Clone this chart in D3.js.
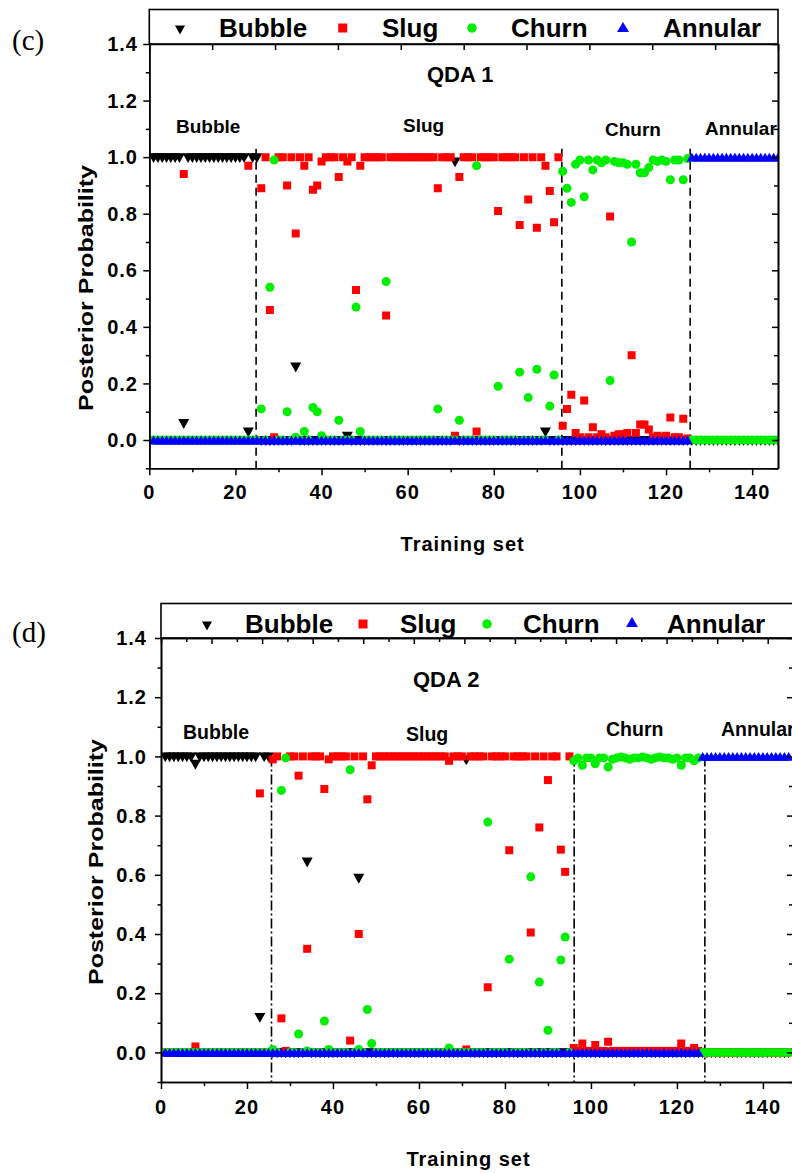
<!DOCTYPE html>
<html><head><meta charset="utf-8">
<script src="https://cdn.jsdelivr.net/npm/d3@7"></script>
<style>
body{margin:0;background:#fff;}
svg{display:block;font-family:"Liberation Sans",Arial,Helvetica,sans-serif;}
</style></head><body>
<svg id="chart" width="792" height="1173"></svg>
<script>
// ---------------- DATA ----------------
const seriesNames = ["Bubble", "Slug", "Churn", "Annular"];
const regionNames = ["Bubble", "Slug", "Churn", "Annular"];
const panelTags = ["(c)", "(d)"];
const panelTitles = ["QDA 1", "QDA 2"];
const yTickLabels = [0.0, 0.2, 0.4, 0.6, 0.8, 1.0, 1.2, 1.4];
const xTickLabels = [0, 20, 40, 60, 80, 100, 120, 140];
const xAxisTitle = "Training set";
const yAxisTitle = "Posterior Probability";
// class boundaries (training-set index)
const boundariesC = [24.8, 95.8, 125.6];
const boundariesD = [25.7, 96.1, 126.5];

// Panel (c) QDA 1 : posterior probability of each class for training samples 1..146
const bubbleC = [
 1,1,1,1,1,1,1,0.06,1,1,
 1,1,1,1,1,1,1,1,1,1,
 1,1,0.03,1,1,0,0,0,0,0,
 0,0,0,0.26,0,0,0,0,0,0,
 0,0,0,0,0,0.015,0,0,0,0,
 0,0,0,0,0,0,0,0,0,0,
 0,0,0,0,0,0,0,0,0,0,
 0.985,0,0,0,0,0,0,0,0,0,
 0,0,0,0,0,0,0,0,0,0,
 0,0.03,0,0,0,0,0,0,0,0,
 0,0,0,0,0,0,0,0,0,0,
 0,0,0,0,0,0,0,0,0,0,
 0,0,0,0,0,0,0,0,0,0,
 0,0,0,0,0,0,0,0,0,0,
 0,0,0,0,0,0];
const slugC = [
 0,0,0,0,0,0,0,0.94,0,0,
 0,0,0,0,0,0,0,0,0,0,
 0,0,0.97,0,0,0.89,1,0.46,0.01,1,
 1,0.90,1,0.73,1,0.97,1,0.885,0.90,0.985,
 1,1,1,0.93,1,0.985,1,0.53,0.97,1,
 1,1,1,1,0.44,1,1,1,1,1,
 1,1,1,1,1,1,0.89,1,1,1,
 0.015,0.93,1,1,1,0.03,1,1,1,1,
 0.81,1,1,1,1,0.76,1,0.85,1,0.75,
 1,0.97,0.88,0.77,1,0.05,0.11,0.16,0.025,0.01,
 0.14,0.01,0.045,0.01,0.02,0.01,0.79,0.015,0.02,0.02,
 0.025,0.30,0.025,0.055,0.055,0.037,0.01,0.015,0.01,0.015,
 0.08,0.01,0.01,0.075,0.005,0,0,0,0,0,
 0,0,0,0,0,0,0,0,0,0,
 0,0,0,0,0,0];
const churnC = [
 0,0,0,0,0,0,0,0,0,0,
 0,0,0,0,0,0,0,0,0,0,
 0,0,0,0,0,0.11,0,0.54,0.99,0,
 0,0.10,0,0.01,0,0.03,0,0.115,0.10,0.015,
 0,0,0,0.07,0,0,0,0.47,0.03,0,
 0,0,0,0,0.56,0,0,0,0,0,
 0,0,0,0,0,0,0.11,0,0,0,
 0,0.07,0,0,0,0.97,0,0,0,0,
 0.19,0,0,0,0,0.24,0,0.15,0,0.25,
 0,0,0.12,0.23,0,0.95,0.89,0.84,0.975,0.99,
 0.86,0.99,0.955,0.99,0.98,0.99,0.21,0.985,0.98,0.98,
 0.975,0.70,0.975,0.945,0.945,0.963,0.99,0.985,0.99,0.985,
 0.92,0.99,0.99,0.92,0.995,0,0,0,0,0,
 0,0,0,0,0,0,0,0,0,0,
 0,0,0,0,0,0];
const annularC = [
 0,0,0,0,0,0,0,0,0,0,
 0,0,0,0,0,0,0,0,0,0,
 0,0,0,0,0,0,0,0,0,0,
 0,0,0,0,0,0,0,0,0,0,
 0,0,0,0,0,0,0,0,0,0,
 0,0,0,0,0,0,0,0,0,0,
 0,0,0,0,0,0,0,0,0,0,
 0,0,0,0,0,0,0,0,0,0,
 0,0,0,0,0,0,0,0,0,0,
 0,0,0,0,0,0,0,0,0,0,
 0,0,0,0,0,0,0,0,0,0,
 0,0,0,0,0,0,0,0,0,0,
 0,0,0,0,0,1,1,1,1,1,
 1,1,1,1,1,1,1,1,1,1,
 1,1,1,1,1,1];

// Panel (d) QDA 2
const bubbleD = [
 1,1,1,1,1,1,1,0.975,1,1,
 1,1,1,1,1,1,1,1,1,1,
 1,1,0.12,1,1,0,0,0,0,0,
 0,0,0,0.645,0,0,0,0,0,0,
 0,0,0,0,0,0.59,0,0,0,0,
 0,0,0,0,0,0,0,0,0,0,
 0,0,0,0,0,0,0,0,0,0,
 0.99,0,0,0,0,0,0,0,0,0,
 0,0,0,0,0,0,0,0,0,0,
 0,0,0,0,0,0,0,0,0,0,
 0,0,0,0,0,0,0,0,0,0,
 0,0,0,0,0,0,0,0,0,0,
 0,0,0,0,0,0,0,0,0,0,
 0,0,0,0,0,0,0,0,0,0,
 0,0,0,0,0,0];
const slugD = [
 0,0,0,0,0,0,0,0.02,0,0,
 0,0,0,0,0,0,0,0,0,0,
 0,0,0.875,0,0,0.99,1,0.115,0.005,1,
 1,0.935,1,0.35,1,1,1,0.89,0.99,1,
 1,1,1,0.04,1,0.40,1,0.855,0.97,1,
 1,1,1,1,1,1,1,1,1,1,
 1,1,1,1,1,1,0.985,1,1,1,
 0.01,1,1,1,1,0.22,1,1,1,1,
 0.683,1,1,1,1,0.405,1,0.76,1,0.92,
 1,1,0.685,0.61,1,0.015,0.005,0.03,0.005,0.005,
 0.025,0.005,0.005,0.036,0.005,0.005,0.005,0.005,0.005,0.005,
 0.005,0.005,0.005,0.005,0.005,0.005,0.005,0.005,0.005,0.005,
 0.03,0.005,0.005,0.015,0.005,0,0,0,0,0,
 0,0,0,0,0,0,0,0,0,0,
 0,0,0,0,0,0];
const churnD = [
 0,0,0,0,0,0,0,0,0,0,
 0,0,0,0,0,0,0,0,0,0,
 0,0,0,0,0,0.01,0,0.885,0.995,0,
 0,0.062,0,0.005,0,0,0,0.106,0.01,0,
 0,0,0,0.955,0,0.01,0,0.145,0.03,0,
 0,0,0,0,0,0,0,0,0,0,
 0,0,0,0,0,0,0.015,0,0,0,
 0,0,0,0,0,0.778,0,0,0,0,
 0.315,0,0,0,0,0.593,0,0.238,0,0.075,
 0,0,0.312,0.39,0,0.985,0.995,0.97,0.995,0.995,
 0.975,0.995,0.995,0.964,0.99,0.995,0.998,0.995,0.99,0.995,
 0.995,0.998,0.995,0.99,0.995,0.998,0.995,0.995,0.99,0.995,
 0.97,0.995,0.995,0.985,0.995,0,0,0,0,0,
 0,0,0,0,0,0,0,0,0,0,
 0,0,0,0,0,0];
const annularD = [
 0,0,0,0,0,0,0,0,0,0,
 0,0,0,0,0,0,0,0,0,0,
 0,0,0,0,0,0,0,0,0,0,
 0,0,0,0,0,0,0,0,0,0,
 0,0,0,0,0,0,0,0,0,0,
 0,0,0,0,0,0,0,0,0,0,
 0,0,0,0,0,0,0,0,0,0,
 0,0,0,0,0,0,0,0,0,0,
 0,0,0,0,0,0,0,0,0,0,
 0,0,0,0,0,0,0,0,0,0,
 0,0,0,0,0,0,0,0,0,0,
 0,0,0,0,0,0,0,0,0,0,
 0,0,0,0,0,1,1,1,1,1,
 1,1,1,1,1,1,1,1,1,1,
 1,1,1,1,1,1];

// ---------------- STYLE / LAYOUT ----------------
const colors = ["#000000", "#ff0000", "#00ee00", "#0000ff"];
const triDown = {draw(ctx, w){ const h = w*0.9; ctx.moveTo(0, h/2 + 1); ctx.lineTo(w/2, -h/2 + 1); ctx.lineTo(-w/2, -h/2 + 1); ctx.closePath(); }};
const triUp = {draw(ctx, w){ const h = w*0.85; ctx.moveTo(0, -h/2); ctx.lineTo(w/2, h/2); ctx.lineTo(-w/2, h/2); ctx.closePath(); }};
const sq = {draw(ctx, w){ ctx.rect(-w/2, -w/2, w, w); }};
const circ = {draw(ctx, w){ ctx.moveTo(w/2, 0); ctx.arc(0, 0, w/2, 0, 2*Math.PI); }};
const shapes = [triDown, sq, circ, triUp];
const markerSize = [11, 8, 9, 10.5];
const legendSize = [10, 9, 9.5, 12];

const layouts = [
 {id:"c", L:149.3, R:778, T:44, B:468.3, xMax:146, legTop:9.5, legR:778,
  data:[bubbleC, slugC, churnC, annularC], bounds:boundariesC, dash:"8,5", lineTop:1.03,
  tag:{x:12, y:50}, title:{x:427, y:82},
  regions:[{x:176,y:133},{x:403,y:132},{x:605,y:136},{x:705,y:135}],
  legend:{base:37, sym:[180,342.7,472,623], txt:[219,382,511,663], symY:[29,28,28,27]},
  yTickX:138, xTickY:499, xTitleY:551, yTitleX:93, yTitleY:288, topTicks:10, topLong:1},
 {id:"d", L:161, R:793, T:638, B:1082, xMax:147, legTop:603.5, legR:800,
  data:[bubbleD, slugD, churnD, annularD], bounds:boundariesD, dash:"10,3,2,3", lineTop:1.0,
  tag:{x:12, y:642}, title:{x:413, y:687},
  regions:[{x:183,y:739},{x:406,y:741},{x:606,y:736},{x:721,y:736}],
  legend:{base:633, sym:[207,363,487,632], txt:[245,400,523,667], symY:[625,624,624,622]},
  yTickX:147, xTickY:1114, xTitleY:1166, yTitleX:103, yTitleY:862, topTicks:25, topLong:2}
];

const svg = d3.select("#chart");
const defs = svg.append("defs");

layouts.forEach((p, pi) => {
  const x = d3.scaleLinear().domain([0, p.xMax]).range([p.L, p.R]);
  const y = d3.scaleLinear().domain([-0.1, 1.4]).range([p.B, p.T]);
  const g = svg.append("g");
  const clipId = "clip-" + p.id;
  defs.append("clipPath").attr("id", clipId).append("rect")
    .attr("x", p.L).attr("y", p.T).attr("width", p.R - p.L).attr("height", p.B - p.T);
  const inner = g.append("g").attr("clip-path", `url(#${clipId})`);

  // boundary lines
  inner.selectAll("line.bnd").data(p.bounds).join("line").attr("class","bnd")
    .attr("x1", d => x(d)).attr("x2", d => x(d))
    .attr("y1", y(p.lineTop)).attr("y2", y(-0.1))
    .attr("stroke", "#000").attr("stroke-width", 1.6).attr("stroke-dasharray", p.dash);

  // markers
  p.data.forEach((vals, si) => {
    const pts = vals.map((v, i) => ({i: i + 1, v}));
    inner.append("g").selectAll("path").data(pts).join("path")
      .attr("transform", d => `translate(${x(d.i)},${y(d.v)})`)
      .attr("d", d3.symbol().type(shapes[si]).size(markerSize[si])())
      .attr("fill", colors[si]);
  });

  // region labels & title
  inner.selectAll("text.reg").data(regionNames).join("text").attr("class","reg")
    .attr("x", (d, i) => p.regions[i].x).attr("y", (d, i) => p.regions[i].y)
    .attr("font-size", pi === 0 ? 19 : 19.5).attr("font-weight", "bold").text(d => d);
  g.append("text").attr("x", p.title.x).attr("y", p.title.y)
    .attr("font-size", 22).attr("font-weight", "bold").text(panelTitles[pi]);

  // axes
  const yMinor = [-0.1, 0.1, 0.3, 0.5, 0.7, 0.9, 1.1, 1.3];
  const xMinor = [10, 30, 50, 70, 90, 110, 130];
  const axStyle = sel => { sel.selectAll("path.domain").attr("stroke-width", 1.6);
    sel.selectAll("line").attr("stroke-width", 1.5); sel.selectAll("text").remove(); };

  g.append("g").attr("transform", `translate(${p.L},0)`)
    .call(d3.axisLeft(y).tickValues(yTickLabels).tickSize(6).tickSizeOuter(0)).call(axStyle);
  g.append("g").attr("transform", `translate(${p.L},0)`)
    .call(d3.axisLeft(y).tickValues(yMinor).tickSize(3.5).tickSizeOuter(0)).call(axStyle);
  g.append("g").attr("transform", `translate(${p.R},0)`)
    .call(d3.axisRight(y).tickValues(yTickLabels).tickSize(-6).tickSizeOuter(0)).call(axStyle);
  g.append("g").attr("transform", `translate(${p.R},0)`)
    .call(d3.axisRight(y).tickValues(yMinor).tickSize(-4).tickSizeOuter(0)).call(axStyle);
  g.append("g").attr("transform", `translate(0,${p.B})`)
    .call(d3.axisBottom(x).tickValues(xTickLabels).tickSize(7).tickSizeOuter(0)).call(axStyle);
  g.append("g").attr("transform", `translate(0,${p.B})`)
    .call(d3.axisBottom(x).tickValues(xMinor).tickSize(4).tickSizeOuter(0)).call(axStyle);
  const xt = d3.scaleLinear().domain([0, p.topTicks]).range([p.L, p.R]);
  const topVals = d3.range(0, p.topTicks + 1);
  g.append("g").attr("transform", `translate(0,${p.T})`)
    .call(d3.axisTop(xt).tickValues(topVals.filter(v => v % p.topLong === 0)).tickSize(-6).tickSizeOuter(0)).call(axStyle);
  if (p.topLong > 1) g.append("g").attr("transform", `translate(0,${p.T})`)
    .call(d3.axisTop(xt).tickValues(topVals.filter(v => v % p.topLong !== 0)).tickSize(-4).tickSizeOuter(0)).call(axStyle);

  // tick labels
  g.selectAll("text.yt").data(yTickLabels).join("text").attr("class","yt")
    .attr("x", p.yTickX).attr("y", d => y(d)).attr("dy", "0.36em")
    .attr("text-anchor", "end").attr("font-size", 20).attr("font-weight", "bold")
    .attr("letter-spacing", 1).text(d => d.toFixed(1));
  g.selectAll("text.xt").data(xTickLabels).join("text").attr("class","xt")
    .attr("x", d => x(d)).attr("y", p.xTickY)
    .attr("text-anchor", "middle").attr("font-size", 20).attr("font-weight", "bold")
    .attr("letter-spacing", 1).text(d => d);

  // axis titles
  g.append("text").attr("x", (p.L + 778) / 2 - 1).attr("y", p.xTitleY)
    .attr("text-anchor", "middle").attr("font-size", 20).attr("font-weight", "bold")
    .attr("letter-spacing", 1).text(xAxisTitle);
  g.append("text").attr("transform", `translate(${p.yTitleX},${p.yTitleY}) rotate(-90)`)
    .attr("text-anchor", "middle").attr("font-size", 21).attr("font-weight", "bold")
    .attr("textLength", 246).attr("lengthAdjust", "spacingAndGlyphs").text(yAxisTitle);

  // legend box
  g.append("rect").attr("x", p.L).attr("y", p.legTop).attr("width", p.legR - p.L).attr("height", p.T - p.legTop)
    .attr("fill", "none").attr("stroke", "#000").attr("stroke-width", 1.6);
  seriesNames.forEach((name, si) => {
    g.append("path").attr("transform", `translate(${p.legend.sym[si]},${p.legend.symY[si]})`)
      .attr("d", d3.symbol().type(shapes[si]).size(legendSize[si])()).attr("fill", colors[si]);
    g.append("text").attr("x", p.legend.txt[si]).attr("y", p.legend.base)
      .attr("font-size", 26).attr("font-weight", "bold").text(name);
  });

  // panel tag
  g.append("text").attr("x", p.tag.x).attr("y", p.tag.y)
    .attr("font-family", "'Liberation Serif','Times New Roman',serif").attr("font-size", 29).text(panelTags[pi]);
});
</script>
</body></html>
